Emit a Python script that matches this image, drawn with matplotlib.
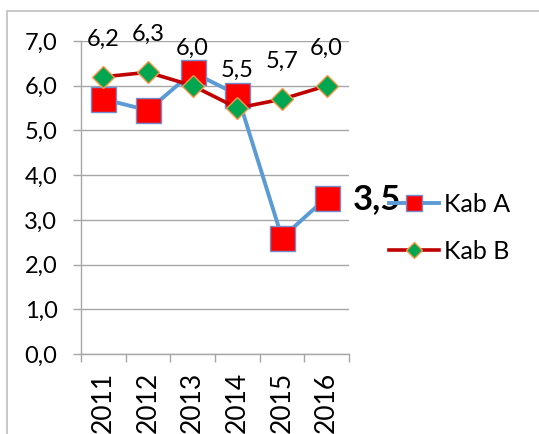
import matplotlib
matplotlib.use('Agg')
import matplotlib.pyplot as plt
import matplotlib.ticker as mticker
import matplotlib.patches as mpatches
import numpy as np

plt.rcParams['font.family'] = ['Lato', 'DejaVu Sans']

years = ['2011', '2012', '2013', '2014', '2015', '2016']
kab_a = [5.7, 5.45, 6.3, 5.8, 2.6, 3.5]
kab_b = [6.2, 6.3, 6.0, 5.5, 5.7, 6.0]

def comma(v):
    return f"{v:.1f}".replace('.', ',')

fig = plt.figure(figsize=(5.39, 4.34), dpi=100)
ax = fig.add_axes([0.1503, 0.1843, 0.4972, 0.7212])

# outer chart frame (only left/top visible)
frame = mpatches.Rectangle((7/539, -0.2), 1.2, 1.2 - 11/434,
                           transform=fig.transFigure, fill=False,
                           ec='#bfbfbf', lw=1.2)
fig.patches.append(frame)

x = np.arange(len(years))
line_a, = ax.plot(x, kab_a, color='#5b9bd5', lw=2.8, marker='s', ms=18,
                  mfc='#ff0000', mec='#6f8fd0', mew=1.0, label='Kab A', zorder=3)
line_b, = ax.plot(x, kab_b, color='#c00000', lw=2.6, marker='D', ms=11,
                  mfc='#00a650', mec='#f79646', mew=1.0, label='Kab B', zorder=4)

for xi, v in zip(x, kab_b):
    ax.annotate(comma(v), xy=(xi, v), xytext=(0, 27), textcoords='offset points',
                ha='center', va='center', fontsize=17)
ax.annotate(comma(kab_a[-1]), xy=(x[-1], kab_a[-1]), xytext=(19, -1),
            textcoords='offset points', ha='left', va='center',
            fontsize=25, fontweight='bold', annotation_clip=False, zorder=1)

ax.set_xlim(-0.5, len(years) - 0.5)
ax.set_ylim(0, 7)
ax.set_yticks(np.arange(0, 8, 1))
ax.yaxis.set_major_formatter(mticker.FuncFormatter(lambda v, p: comma(v)))
ax.set_xticks(x)
ax.set_xticklabels(years, rotation=90, fontsize=19)
ax.set_xticks(np.arange(-0.5, len(years), 1), minor=True)
ax.tick_params(axis='x', which='major', length=0, pad=13)
ax.tick_params(axis='x', which='minor', length=6, color='#a6a6a6', width=1)
ax.tick_params(axis='y', length=6, color='#a6a6a6', width=1, pad=11, labelsize=17)

ax.grid(axis='y', color='#a6a6a6', lw=1)
ax.set_axisbelow(True)
for s in ('top', 'right'):
    ax.spines[s].set_visible(False)
for s in ('left', 'bottom'):
    ax.spines[s].set_color('#a6a6a6')
    ax.spines[s].set_linewidth(1)

leg = fig.legend(handles=[line_a, line_b], loc='center left',
                 bbox_to_anchor=(0.699, 0.475), frameon=False, fontsize=18,
                 handlelength=2.0, handletextpad=0.2, labelspacing=0.95,
                 borderpad=0)
hs = leg.legend_handles
hs[0].set_markersize(12)
hs[1].set_markersize(8)

fig.savefig('out.png', dpi=100)
